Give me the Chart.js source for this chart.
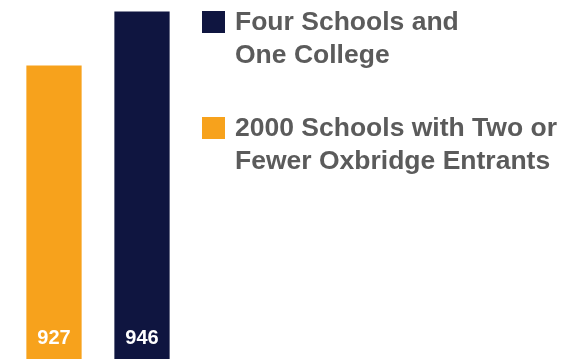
<!DOCTYPE html>
<html>
<head>
<meta charset="utf-8">
<script src="https://cdn.jsdelivr.net/npm/chart.js@4/dist/chart.umd.min.js"></script>
<style>
html,body{margin:0;padding:0;background:#fff;}
#wrap{width:563px;height:359px;position:relative;}
</style>
</head>
<body>
<div id="wrap"><canvas id="c" width="563" height="359"></canvas></div>
<script>
const categories = ['Oxbridge entrants'];
const seriesNames = [
  ['2000 Schools with Two or', 'Fewer Oxbridge Entrants'],
  ['Four Schools and', 'One College']
];
const seriesValues = [[927], [946]];
const seriesColors = ['#F7A21C', '#0F1540'];

const barLabels = {
  id: 'barLabels',
  afterDatasetsDraw(chart) {
    const ctx = chart.ctx;
    ctx.save();
    ctx.fillStyle = '#ffffff';
    ctx.font = 'bold 20px "Liberation Sans", Arial, sans-serif';
    ctx.textAlign = 'center';
    ctx.textBaseline = 'alphabetic';
    chart.data.datasets.forEach((ds, i) => {
      const meta = chart.getDatasetMeta(i);
      meta.data.forEach((bar, j) => {
        ctx.fillText(String(ds.data[j]), bar.x, 344);
      });
    });
    ctx.restore();
  }
};

const sideLegend = {
  id: 'sideLegend',
  afterDraw(chart) {
    const ctx = chart.ctx;
    ctx.save();
    ctx.font = 'bold 26.5px "Liberation Sans", Arial, sans-serif';
    ctx.textBaseline = 'alphabetic';
    ctx.textAlign = 'left';
    const order = chart.data.datasets.map((d, i) => i).reverse();
    let base = 30;
    order.forEach(i => {
      const ds = chart.data.datasets[i];
      ctx.fillStyle = ds.backgroundColor;
      ctx.fillRect(202, base - 19, 23, 22);
      ctx.fillStyle = '#5B5B5B';
      ds.label.forEach((line, k) => {
        ctx.fillText(line, 235, base + k * 33);
      });
      base += 106;
    });
    ctx.restore();
  }
};

new Chart(document.getElementById('c'), {
  type: 'bar',
  data: {
    labels: categories,
    datasets: seriesNames.map((name, i) => ({
      label: name,
      data: seriesValues[i],
      backgroundColor: seriesColors[i],
      borderWidth: 0
    }))
  },
  options: {
    responsive: false,
    animation: false,
    layout: { padding: { left: 10, right: 377, top: 0, bottom: 0 } },
    datasets: { bar: { categoryPercentage: 1.0, barPercentage: 0.628 } },
    scales: {
      x: { display: false },
      y: { display: false, min: 824, max: 950 }
    },
    plugins: { legend: { display: false }, tooltip: { enabled: false } }
  },
  plugins: [barLabels, sideLegend]
});
</script>
</body>
</html>
